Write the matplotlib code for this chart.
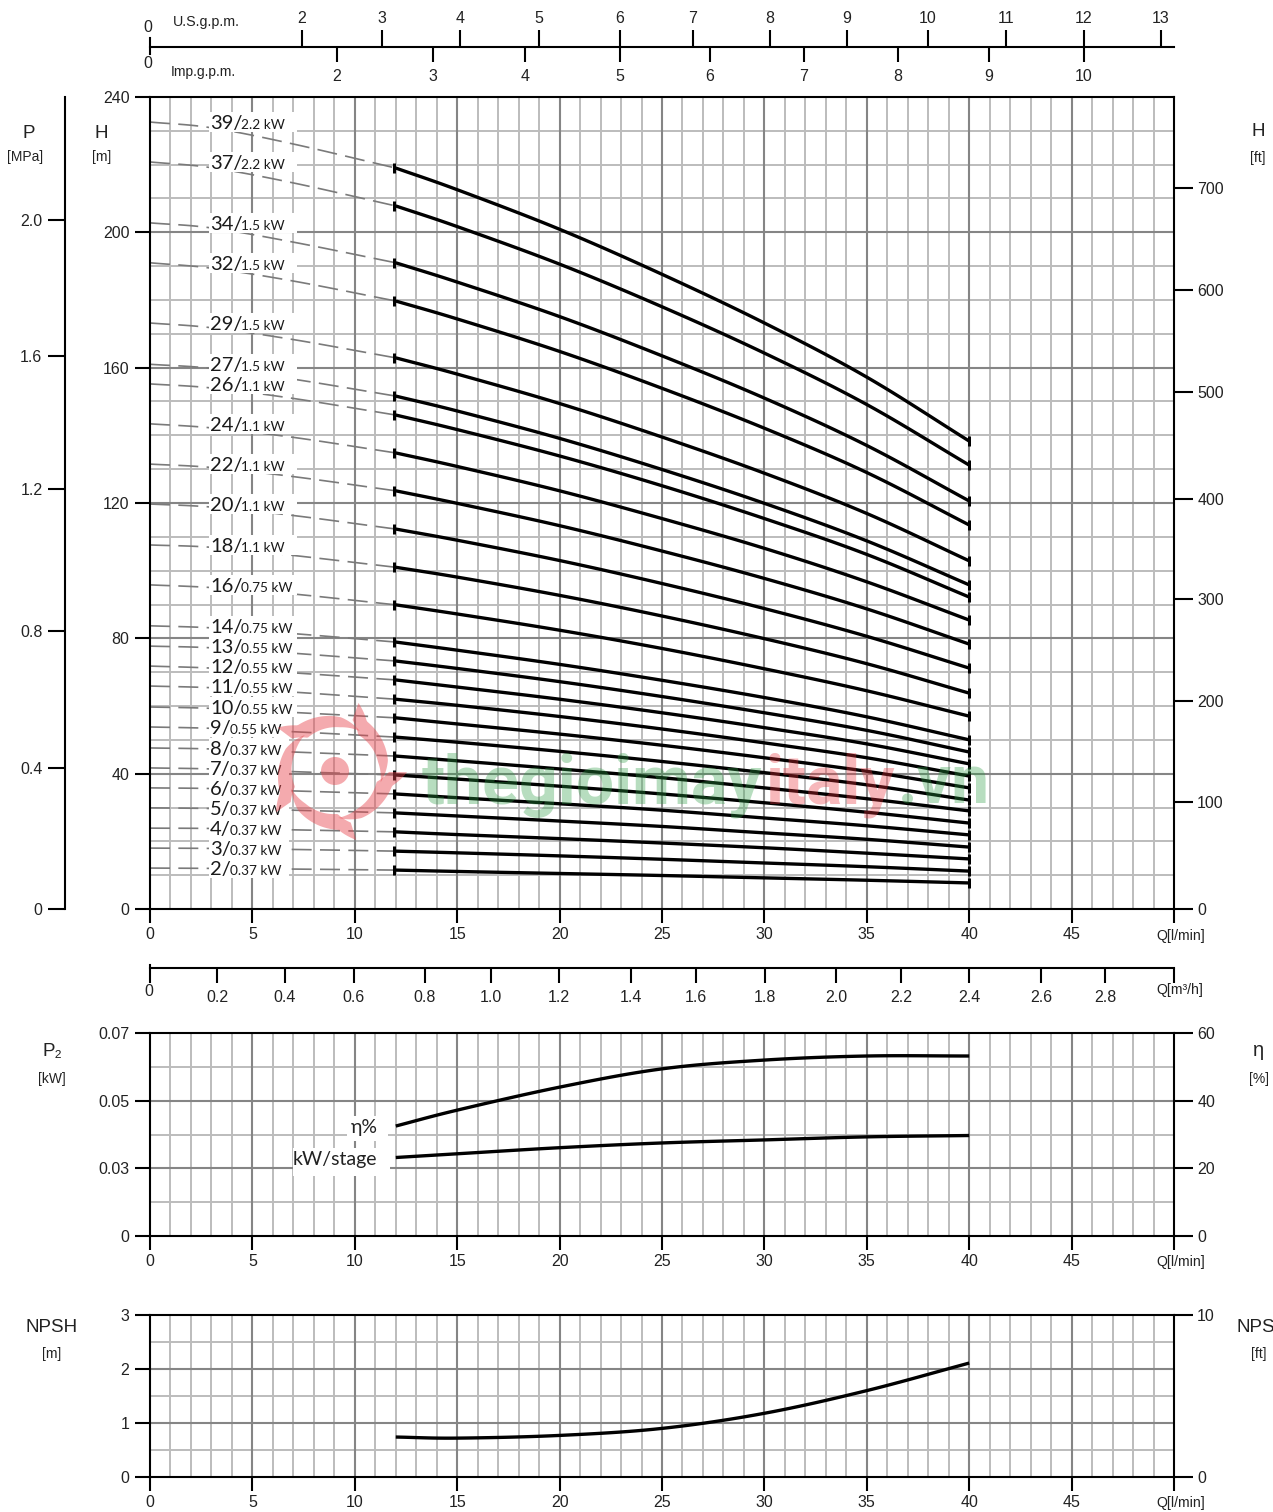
import numpy as np
import matplotlib
matplotlib.use("Agg")
import matplotlib.pyplot as plt
from matplotlib.patches import Rectangle, Polygon, Circle

plt.rcParams['font.family'] = ['Liberation Sans', 'DejaVu Sans']
LBL = ['Lato', 'DejaVu Sans']
W, H = 1273, 1512

# ---------- data ----------
stages = [39, 37, 34, 32, 29, 27, 26, 24, 22, 20, 18, 16, 14, 13, 12, 11, 10, 9, 8, 7, 6, 5, 4, 3, 2]
powers = ['2.2', '2.2', '1.5', '1.5', '1.5', '1.5', '1.1', '1.1', '1.1', '1.1', '1.1', '0.75', '0.75',
          '0.55', '0.55', '0.55', '0.55', '0.55', '0.37', '0.37', '0.37', '0.37', '0.37', '0.37', '0.37']
q_curve = [12, 15, 20, 25, 30, 35, 40]
h12 = [219.0, 207.8, 191.0, 179.7, 162.9, 151.6, 146.0, 134.8, 123.6, 112.3, 101.0, 89.9, 78.9, 73.3, 67.7, 62.0, 56.5, 50.8, 45.2, 39.6, 34.0, 28.4, 22.8, 17.1, 11.5]
h15 = [212.6, 201.7, 185.3, 174.4, 158.1, 147.2, 141.7, 130.8, 119.9, 109.0, 98.1, 87.2, 76.5, 71.1, 65.6, 60.2, 54.7, 49.3, 43.8, 38.4, 32.9, 27.5, 22.0, 16.6, 11.1]
h20 = [200.9, 190.6, 175.1, 164.8, 149.4, 139.1, 133.9, 123.6, 113.3, 103.0, 92.7, 82.4, 72.3, 67.2, 62.0, 56.9, 51.7, 46.6, 41.4, 36.3, 31.1, 26.0, 20.8, 15.7, 10.5]
h25 = [187.6, 178.0, 163.5, 153.9, 139.5, 129.9, 125.1, 115.4, 105.8, 96.2, 86.6, 77.0, 67.6, 62.8, 58.0, 53.2, 48.4, 43.6, 38.8, 34.0, 29.2, 24.4, 19.5, 14.7, 9.9]
h30 = [173.2, 164.3, 151.0, 142.1, 128.8, 119.9, 115.4, 106.6, 97.7, 88.8, 79.9, 71.0, 62.5, 58.0, 53.6, 49.1, 44.7, 40.3, 35.8, 31.4, 26.9, 22.5, 18.1, 13.6, 9.2]
h35 = [157.2, 149.1, 137.0, 129.0, 116.9, 108.8, 104.8, 96.7, 88.7, 80.6, 72.5, 64.5, 56.8, 52.8, 48.8, 44.7, 40.7, 36.7, 32.6, 28.6, 24.6, 20.6, 16.5, 12.5, 8.5]
h40 = [138.3, 131.2, 120.6, 113.5, 102.9, 95.8, 92.2, 85.4, 78.3, 71.2, 63.8, 57.0, 50.0, 46.4, 42.9, 39.3, 35.8, 32.2, 29.0, 25.4, 21.9, 18.3, 14.8, 11.2, 7.7]
q_dash = [0, 3, 7]
d0 = [232.6, 220.8, 202.8, 191.0, 173.2, 161.0, 155.2, 143.4, 131.5, 119.7, 107.6, 95.8, 83.7, 77.7, 71.8, 65.9, 59.7, 53.8, 47.6, 41.7, 35.8, 29.9, 23.9, 18.0, 12.1]
d3 = [230.9, 219.1, 201.3, 189.4, 171.8, 159.8, 154.0, 142.2, 130.5, 118.8, 106.9, 95.0, 83.1, 77.2, 71.2, 65.4, 59.3, 53.4, 47.3, 41.4, 35.6, 29.7, 23.8, 17.9, 12.0]
d7 = [226.1, 214.6, 197.1, 185.6, 168.3, 156.6, 150.9, 139.4, 127.8, 116.3, 104.5, 93.1, 81.4, 75.6, 69.8, 64.1, 58.1, 52.4, 46.4, 40.6, 34.9, 29.2, 23.4, 17.6, 11.8]

q_eff = [12, 15, 20, 25, 30, 35, 40]
eta = [32.5, 37.2, 44.0, 49.4, 52.0, 53.2, 53.2]
q_kw = [12, 15, 20, 25, 30, 35, 40]
kw = [0.0332, 0.0343, 0.0361, 0.0375, 0.0384, 0.0393, 0.0397]
q_npsh = [12, 15, 20, 25, 30, 35, 40]
npsh = [0.74, 0.72, 0.77, 0.90, 1.18, 1.60, 2.11]

q_major = [0, 5, 10, 15, 20, 25, 30, 35, 40, 45]
us_pos = [7.42, 11.33, 15.14, 18.99, 22.95, 26.51, 30.27, 34.03, 37.99, 41.8, 45.6, 49.36]
us_lab = ['2', '3', '4', '5', '6', '7', '8', '9', '10', '11', '12', '13']
imp_pos = [9.13, 13.82, 18.31, 22.95, 27.34, 31.93, 36.52, 40.97, 45.6]
imp_lab = ['2', '3', '4', '5', '6', '7', '8', '9', '10']
m3_pos = [3.27, 6.59, 9.96, 13.43, 16.65, 19.97, 23.49, 26.67, 30.03, 33.5, 36.67, 40.0, 43.5, 46.63]
m3_lab = ['0.2', '0.4', '0.6', '0.8', '1.0', '1.2', '1.4', '1.6', '1.8', '2.0', '2.2', '2.4', '2.6', '2.8']
mpa_pos = [0, 41.7, 82.2, 124.2, 163.4, 203.7]
mpa_lab = ['0', '0.4', '0.8', '1.2', '1.6', '2.0']
ft_pos = [0, 31.6, 61.5, 91.6, 121.2, 152.8, 183.0, 213.1]
ft_lab = ['0', '100', '200', '300', '400', '500', '600', '700']

# ---------- helpers ----------
fig = plt.figure(figsize=(W / 100, H / 100), dpi=100, facecolor='white')
def rect(l, t, r, b):
    return [l / W, 1 - b / H, (r - l) / W, (b - t) / H]
P = 0.72  # points per pixel
MIN, MAJ = '#bcbcbc', '#858585'
FS = 11.5
FSS = 10
CLW = 2.4

def smooth(x, y, steps=12):
    """Catmull-Rom drawing of a curve through the read points."""
    x, y = np.asarray(x, float), np.asarray(y, float)
    X = np.r_[2 * x[0] - x[1], x, 2 * x[-1] - x[-2]]
    Y = np.r_[2 * y[0] - y[1], y, 2 * y[-1] - y[-2]]
    xs, ys = [], []
    for i in range(1, len(X) - 2):
        t = np.linspace(0, 1, steps, endpoint=False)[:, None]
        B = np.hstack([-t + 2 * t**2 - t**3, 2 - 5 * t**2 + 3 * t**3, t + 4 * t**2 - 3 * t**3, -t**2 + t**3]) / 2
        xs.append(B @ X[i - 1:i + 3])
        ys.append(B @ Y[i - 1:i + 3])
    return np.r_[np.concatenate(xs), x[-1]], np.r_[np.concatenate(ys), y[-1]]

def panel(t, b, ymax, major, minor, left_lab, right_pos, right_lab):
    ax = fig.add_axes(rect(150, t, 1174, b))
    ax.set_xlim(0, 50)
    ax.set_ylim(0, ymax)
    ax.set_xticks(list(range(0, 51)), minor=True)
    ax.set_yticks(minor, minor=True)
    ax.grid(which='minor', color=MIN, lw=1.4, zorder=0.5)
    ax.set_axisbelow(True)
    for q in q_major[1:]:
        ax.axvline(q, color=MAJ, lw=1.5, zorder=1)
    for y in major[1:-1]:
        ax.axhline(y, color=MAJ, lw=1.5, zorder=1)
    for s in ax.spines.values():
        s.set_linewidth(1.5)
        s.set_zorder(6)
    ax.set_xticks(q_major + [50])
    ax.set_xticklabels([str(q) for q in q_major] + [''], fontsize=FS)
    ax.set_yticks(major)
    ax.set_yticklabels(left_lab, fontsize=FS)
    ax.tick_params(which='minor', length=0)
    ax.tick_params(axis='x', which='major', length=14 * P, width=1.5, pad=3, labelcolor='#222222')
    ax.tick_params(axis='y', which='major', length=15 * P, width=1.5, pad=4, labelcolor='#222222')
    ar = ax.twinx()
    ar.set_ylim(0, ymax)
    ar.set_yticks(right_pos)
    ar.set_yticklabels(right_lab, fontsize=FS)
    ar.tick_params(axis='y', length=19 * P, width=1.5, pad=3, labelcolor='#222222')
    for s in ar.spines.values():
        s.set_visible(False)
    ar.set_zorder(ax.get_zorder() - 1)
    ax.patch.set_visible(False)
    return ax

# ---------- main H-Q chart ----------
ax = panel(97, 909, 240, [0, 40, 80, 120, 160, 200, 240], list(range(0, 241, 10)),
           ['0', '40', '80', '120', '160', '200', '240'], ft_pos, ft_lab)
for i, n in enumerate(stages):
    q_d = q_dash + [12]
    h_d = [d0[i], d3[i], d7[i], h12[i]]
    ax.plot(*smooth(q_d, h_d), color='#7a7a7a', lw=1.2, dashes=(12, 5), zorder=1.5)
    h_c = [h12[i], h15[i], h20[i], h25[i], h30[i], h35[i], h40[i]]
    ax.plot(*smooth(q_curve, h_c), color='black', lw=CLW, zorder=4, solid_capstyle='butt')
    ax.plot([q_curve[0] - 0.08, q_curve[-1]], [h_c[0], h_c[-1]], ls='', marker='|', ms=10 * P, mew=3 * P,
            color='black', zorder=4)
    two = n >= 10
    box_w = (88 if two else 80) / 20.48
    ax.add_patch(Rectangle((2.9, d0[i] - 2.9), box_w, 5.8, fc='white', ec='none', zorder=2))
    ax.annotate(f'{n}/', xy=(2.93, d0[i]), xytext=(0, -7 * P), textcoords='offset points',
                fontsize=14.5, family=LBL, color='#1a1a1a', va='baseline', ha='left', zorder=5)
    ax.annotate(f'{powers[i]} kW', xy=(2.93, d0[i]), xytext=((31 if two else 20) * P, -7 * P),
                textcoords='offset points', fontsize=9.8, family=LBL, color='#1a1a1a',
                va='baseline', ha='left', zorder=5)

# ---------- P2 / efficiency panel ----------
ax2 = panel(1033, 1236, 60, [0, 20, 40, 60], list(range(0, 61, 10)), ['0', '0.03', '0.05', '0.07'],
            [0, 20, 40, 60], ['0', '20', '40', '60'])
ax2.plot(*smooth(q_eff, eta), color='black', lw=CLW, zorder=4, solid_capstyle='butt')
ax2k = ax2.twinx()
ax2k.set_ylim(0.01, 0.07)
ax2k.axis('off')
ax2k.plot(*smooth(q_kw, kw), color='black', lw=CLW, zorder=4, solid_capstyle='butt')
ax2.add_patch(Rectangle((9.6, 28.0), 2.0, 7.6, fc='white', ec='none', zorder=2))
ax2.add_patch(Rectangle((7.0, 17.8), 4.7, 8.3, fc='white', ec='none', zorder=2))
ax2.text(11.1, 32.2, 'η%', family=LBL, fontsize=14, ha='right', va='center', color='#222222', zorder=5)
ax2.text(11.1, 22.6, 'kW/stage', family=LBL, fontsize=14, ha='right', va='center', color='#222222', zorder=5)

# ---------- NPSH panel ----------
ax3 = panel(1315, 1477, 3, [0, 1, 2, 3], [0, 0.5, 1, 1.5, 2, 2.5, 3], ['0', '1', '2', '3'], [0, 3], ['0', '10'])
ax3.plot(*smooth(q_npsh, npsh), color='black', lw=CLW, zorder=4, solid_capstyle='butt')

# ---------- pressure axis ----------
ap = fig.add_axes(rect(65, 97, 66, 909))
ap.set_ylim(0, 240)
ap.set_xticks([])
ap.patch.set_visible(False)
for k in ('top', 'right', 'bottom'):
    ap.spines[k].set_visible(False)
ap.spines['left'].set_linewidth(1.5)
ap.set_yticks(mpa_pos)
ap.set_yticklabels(mpa_lab, fontsize=FS)
ap.tick_params(axis='y', length=17 * P, width=1.5, pad=4, labelcolor='#222222')

# ---------- flow unit axes ----------
def flow_axis(y, top_pos, top_lab, bot_pos, bot_lab):
    a = fig.add_axes(rect(150, y, 1174, y + 1))
    a.set_xlim(0, 50)
    a.set_yticks([])
    a.patch.set_visible(False)
    for k in ('top', 'left', 'right'):
        a.spines[k].set_visible(False)
    a.spines['bottom'].set_linewidth(1.5)
    a.set_xticks(bot_pos)
    a.set_xticklabels(bot_lab, fontsize=FS)
    a.tick_params(axis='x', length=15 * P, width=1.5, pad=5, labelcolor='#222222')
    if top_pos:
        t = a.twiny()
        t.set_xlim(0, 50)
        t.set_yticks([])
        for s in t.spines.values():
            s.set_visible(False)
        t.set_xticks(top_pos)
        t.set_xticklabels(top_lab, fontsize=FS)
        t.tick_params(axis='x', length=16 * P, width=1.5, pad=3, labelcolor='#222222')
    return a

flow_axis(46, us_pos, us_lab, imp_pos, imp_lab)
flow_axis(967, None, None, m3_pos + [50], m3_lab + [''])

# ---------- overlay in pixel coordinates: watermark and free labels ----------
ov = fig.add_axes([0, 0, 1, 1], zorder=20)
ov.set_xlim(0, W)
ov.set_ylim(H, 0)
ov.axis('off')
ov.patch.set_visible(False)

def T(x, y, s, size=FS, ha='center', color='#222222'):
    ov.text(x, y, s, fontsize=size, ha=ha, va='center', color=color)

BIG = 13.5
T(148, 28, '0'); T(148, 63, '0')
T(173, 22, 'U.S.g.p.m.', 10.3, ha='left'); T(171, 72, 'Imp.g.p.m.', 10, ha='left')
ov.plot([150, 150], [38, 54], color='black', lw=1.5)
ov.plot([150, 150], [965, 982], color='black', lw=1.5)
T(149, 991, '0'); T(1180, 990, 'Q[m³/h]', FSS + 0.2)
T(1181, 936, 'Q[l/min]', FSS + 0.2); T(1181, 1262, 'Q[l/min]', FSS + 0.2); T(1181, 1503, 'Q[l/min]', FSS + 0.2)
T(29, 133, 'P', BIG); T(25, 157, '[MPa]', FSS); T(101, 133, 'H', BIG); T(102, 157, '[m]', FSS)
T(1258, 131, 'H', BIG); T(1258, 158, '[ft]', FSS)
T(52, 1052, 'P₂', BIG); T(52, 1079, '[kW]', FSS); T(52, 1327, 'NPSH', BIG); T(52, 1354, '[m]', FSS)
T(1259, 1051, 'η', BIG + 1); T(1259, 1079, '[%]', FSS); T(1236, 1327, 'NPSH', BIG, ha='left'); T(1259, 1354, '[ft]', FSS)

# watermark logo
cx, cy = 335, 771
RED = '#e8444c'
ov.add_patch(Circle((cx, cy), 14, fc=RED, ec='none', alpha=0.45))
for k in range(5):
    a0 = 143 - 72 * k
    t = np.linspace(0, 1, 60)
    ang = np.radians(a0 - 85 * t)
    r_o = np.interp(t, [0, 0.16, 0.7, 1], [72, 59, 54, 47])
    r_i = np.interp(t, [0, 0.16, 0.7, 1], [54, 43, 44, 47])
    xs = np.r_[cx + r_o * np.cos(ang), (cx + r_i * np.cos(ang))[::-1]]
    ys = np.r_[cy - r_o * np.sin(ang), (cy - r_i * np.sin(ang))[::-1]]
    ov.add_patch(Polygon(np.c_[xs, ys], closed=True, fc=RED, ec='none', alpha=0.45))

# watermark text
kw_wm = dict(fontsize=49, fontweight='bold', family='Roboto', va='baseline', ha='left', alpha=0.34)
ov.text(422, 803, 'thegioimay', color='#2e9e45', **kw_wm)
ov.text(765, 803, 'italy', color='#e8303a', **kw_wm)
ov.text(898, 803, '.vn', color='#2e9e45', **kw_wm)

fig.savefig('out.png', dpi=100, facecolor='white')
